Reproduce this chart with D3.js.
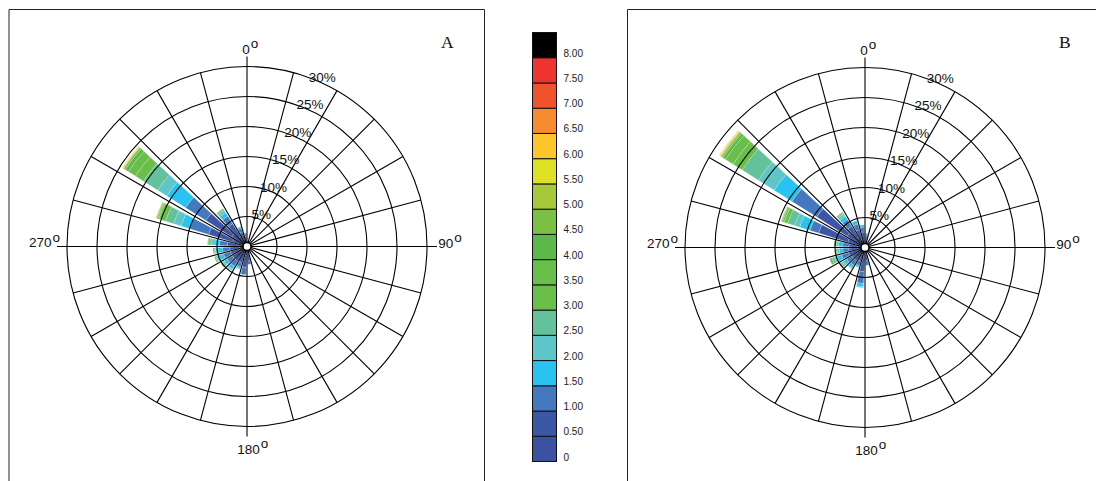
<!DOCTYPE html>
<html><head><meta charset="utf-8">
<script src="https://cdn.jsdelivr.net/npm/d3@7"></script>
<style>body{margin:0;background:#fff}svg{display:block}</style>
</head><body>
<svg id="chart" width="1096" height="481"></svg>
<script>
// ---------- data ----------
const binLabels = ["0","0.50","1.00","1.50","2.00","2.50","3.00","3.50","4.00","4.50","5.00","5.50","6.00","6.50","7.00","7.50","8.00"];
const binColors = ["#3b51a2","#3b57a5","#4479bf","#28c3f0","#5ec5c8","#63c29b","#6abf4b","#6abf4b","#5db84c","#7bbf43","#a6c83a","#dee126","#fdc62d","#f68b2f","#f0522c","#ee3431","#000000"];
const directions = [7.5,22.5,37.5,52.5,67.5,82.5,97.5,112.5,127.5,142.5,157.5,172.5,187.5,202.5,217.5,232.5,247.5,262.5,277.5,292.5,307.5,322.5,337.5,352.5];
const ringTicks = [5,10,15,20,25,30];
const ringLabels = ["5%","10%","15%","20%","25%","30%"];
const compassLabels = ["0","90","180","270"];
const panelNames = ["A","B"];
// frequency (%) per direction sector, per wind-speed bin (bins in order of binLabels)
const freqA = [
  [0.4,0.3,0.1],
  [0.3,0.2],
  [0.25,0.15],
  [0.25,0.15],
  [0.25,0.15],
  [0.25,0.15],
  [0.25,0.15],
  [0.3,0.2],
  [0.35,0.25],
  [0.4,0.3],
  [0.6,0.5,0.2],
  [1.2,1.2,0.6],
  [1.5,2.0,1.2,0.1],
  [1.3,1.5,0.8,0.3,0.1],
  [1.3,1.6,1.0,0.6,0.2,0.1],
  [1.3,1.6,1.0,0.6,0.3,0.2,0.2],
  [1.3,1.6,1.2,0.8,0.4,0.2,0.2],
  [1.3,1.6,1.2,0.8,0.4,0.2,0.2],
  [1.5,1.8,1.3,0.8,0.5,0.3,0.3,0.1],
  [2.5,4.2,3.3,1.5,1.3,1.4,0.8,0.4,0.2,0.2,0.1,0.05],
  [3.0,5.1,4.0,3.7,1.8,2.8,1.6,1.4,0.6,0.3,0.15,0.1,0.05,0.03],
  [2.0,2.5,1.5,0.7,0.4,0.2,0.2],
  [1.2,1.3,0.7,0.3],
  [0.9,0.8,0.4,0.2]
];
const freqB = [
  [0.8,0.8,0.5,0.3],
  [0.4,0.3],
  [0.25,0.15],
  [0.25,0.15],
  [0.25,0.15],
  [0.25,0.15],
  [0.25,0.15],
  [0.25,0.15],
  [0.3,0.2],
  [0.35,0.25],
  [0.5,0.4],
  [1.0,1.2,0.8],
  [1.5,2.5,2.0,0.5,0.2],
  [1.2,1.2,0.8,0.3],
  [1.3,1.3,0.9,0.5,0.2],
  [1.3,1.3,1.0,0.6,0.3,0.3,0.2],
  [1.4,1.5,1.2,0.8,0.5,0.4,0.4],
  [1.3,1.4,1.0,0.6,0.4,0.2,0.1],
  [1.3,1.4,1.0,0.7,0.4,0.2,0.2],
  [3.0,5.1,1.5,1.8,0.9,1.2,0.6,0.3,0.15,0.1,0.05],
  [3.5,6.0,4.9,3.5,3.1,3.2,1.8,1.5,0.5,0.3,0.2,0.1,0.1,0.05],
  [2.0,2.2,1.3,0.7,0.4,0.2,0.2],
  [1.5,1.6,1.0,0.6],
  [1.3,1.3,0.8,0.4]
];

// ---------- drawing ----------
const svg = d3.select("#chart");
const sans = "'Liberation Sans', Arial, sans-serif";
const serif = "'Liberation Serif', 'Times New Roman', serif";

const rScale = d3.scaleLinear().domain([0, 30]).range([0, 180]);
const aScale = d3.scaleLinear().domain([0, 360]).range([0, 2 * Math.PI]);
const halfSpan = 5.25;

// panel frames
svg.append("path").attr("d", "M9,490V9.5H484.5V490").attr("fill", "none").attr("stroke", "#222").attr("stroke-width", 1);
svg.append("path").attr("d", "M627.5,490V9.5H1110").attr("fill", "none").attr("stroke", "#222").attr("stroke-width", 1);

function drawRose(cx, cy, freq, name) {
  const g = svg.append("g").attr("transform", `translate(${cx},${cy})`);
  const arc = d3.arc();
  // wedges
  freq.forEach((vals, i) => {
    const dir = directions[i];
    const cum = d3.cumsum(vals);
    vals.forEach((v, j) => {
      g.append("path")
        .attr("d", arc({
          innerRadius: rScale(cum[j] - v),
          outerRadius: rScale(cum[j]),
          startAngle: aScale(dir - halfSpan),
          endAngle: aScale(dir + halfSpan)
        }))
        .attr("fill", binColors[j])
        .attr("stroke", "rgba(255,255,255,0.45)")
        .attr("stroke-width", 0.4);
    });
  });
  // rings
  g.selectAll("circle.ring").data(ringTicks).join("circle")
    .attr("r", d => rScale(d)).attr("fill", "none").attr("stroke", "#000").attr("stroke-width", 1.1);
  // spokes
  const spokeAngles = d3.range(0, 360, 15);
  g.selectAll("line.spoke").data(spokeAngles).join("line")
    .attr("x1", 0).attr("y1", 0)
    .attr("x2", d => Math.sin(aScale(d)) * (rScale(30) + (d % 90 === 0 ? 10 : 0)))
    .attr("y2", d => -Math.cos(aScale(d)) * (rScale(30) + (d % 90 === 0 ? 10 : 0)))
    .attr("stroke", "#000").attr("stroke-width", 1.1);
  // center
  g.append("circle").attr("r", 4).attr("fill", "#fff").attr("stroke", "#000").attr("stroke-width", 1.5);
  // ring labels
  const la = aScale(24);
  g.selectAll("text.rl").data(ringTicks).join("text")
    .attr("x", d => Math.sin(la) * (rScale(d) + 5))
    .attr("y", d => -Math.cos(la) * (rScale(d) + 5))
    .attr("text-anchor", "middle").attr("dominant-baseline", "central")
    .attr("font-family", sans).attr("font-size", 13.5).attr("fill", "#111")
    .text((d, i) => ringLabels[i]);
  // compass labels
  const pos = [[-4.7, -193], [191.3, 1], [-9.7, 207], [-218, 0.5]];
  compassLabels.forEach((t, i) => {
    const tx = g.append("text").attr("x", pos[i][0]).attr("y", pos[i][1])
      .attr("font-family", sans).attr("font-size", 13.5).attr("fill", "#111");
    tx.append("tspan").text(t);
    tx.append("tspan").attr("dx", 1).attr("dy", -5.5).text("o");
  });
  // panel letter
  svg.append("text").attr("x", cx + 194).attr("y", 48.3)
    .attr("font-family", serif).attr("font-size", 17.5).attr("fill", "#111").text(name);
}

drawRose(247, 246.5, freqA, panelNames[0]);
drawRose(865, 247.5, freqB, panelNames[1]);

// colorbar
const cb = svg.append("g");
const yBand = d3.scaleBand().domain(d3.range(binLabels.length).reverse()).range([32.5, 461.5]);
cb.selectAll("rect").data(d3.range(binLabels.length)).join("rect")
  .attr("x", 532.5).attr("width", 24).attr("y", d => yBand(d)).attr("height", yBand.bandwidth())
  .attr("fill", d => binColors[d]).attr("stroke", "#111").attr("stroke-width", 1);
cb.selectAll("text").data(d3.range(binLabels.length)).join("text")
  .attr("x", 563.5).attr("y", d => yBand(d) + yBand.bandwidth() - 1)
  .attr("font-family", sans).attr("font-size", 10).attr("fill", "#222")
  .text(d => binLabels[d]);
</script>
</body></html>
